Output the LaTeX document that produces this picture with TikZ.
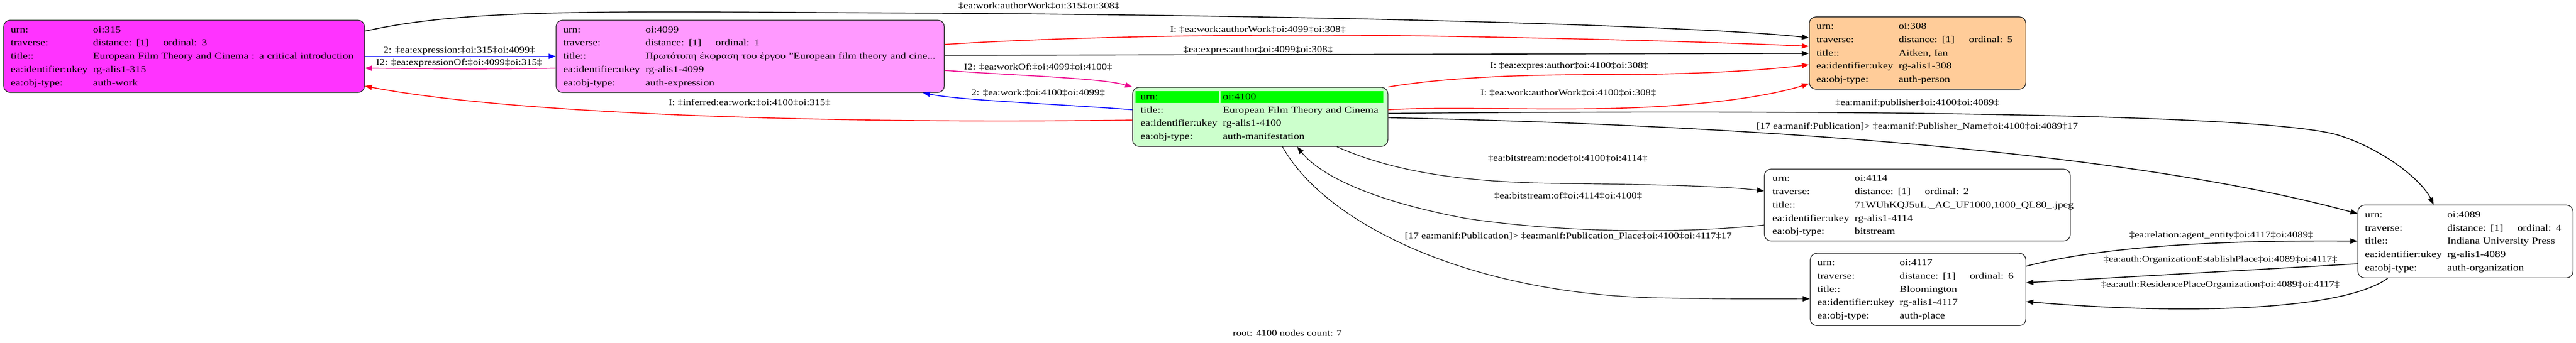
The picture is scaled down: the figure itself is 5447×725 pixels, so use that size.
\documentclass[tikz,border=0pt]{standalone}
\usepackage{fontspec}
\setmainfont{Liberation Serif}[FakeStretch=1.2]
\usepackage{tikz}
\usetikzlibrary{arrows.meta}
\definecolor{work}{HTML}{FF33FF}
\definecolor{expr}{HTML}{FF99FF}
\definecolor{manif}{HTML}{CCFFCC}
\definecolor{hdr}{HTML}{00FF00}
\definecolor{person}{HTML}{FFCC99}
\def\rec#1{\begin{tabular}{@{}p{174pt}@{}l@{}}#1\end{tabular}}
\def\trav#1{distance: [1]\hspace{30pt}ordinal: #1}
\def\hdrcell#1#2{\makebox[0pt][l]{\hspace{#1}\textcolor{hdr}{\rule[-7pt]{#2}{25pt}}}}
\tikzset{
  box/.style={draw=black!85, line width=1.5pt, rounded corners=14pt, anchor=north west,
    align=left, inner xsep=15pt, inner ysep=4pt, minimum height=153pt,
    font=\fontsize{19.2}{28}\selectfont},
  rel/.style={-{Triangle[length=15pt,width=11pt]}, line width=1.8pt},
  thinrel/.style={rel, line width=1.3pt},
  lbl/.style={inner sep=0pt, font=\fontsize{18.5}{22}\selectfont}
}

\begin{document}
\begin{tikzpicture}[x=1pt,y=-1pt]
		\useasboundingbox (0,0) rectangle (5447,725);
		%%%%% NODES %%%%%
		
		\node[box, fill=work, text width=733pt] (n315) at (7,42) {\rec{urn: & oi:315\\ traverse: & \trav{3}\\ title:: & European Film Theory and Cinema : a critical introduction\\ ea:identifier:ukey & rg-alis1-315\\ ea:obj-type: & auth-work}};
		\node[box, fill=expr, text width=791pt] (n4099) at (1175,42) {\rec{urn: & oi:4099\\ traverse: & \trav{1}\\ title:: & Πρωτότυπη έκφραση του έργου "European film theory and cine...\\ ea:identifier:ukey & rg-alis1-4099\\ ea:obj-type: & auth-expression}};
		\node[box, fill=manif, inner xsep=17pt, text width=506pt, minimum height=125pt] (n4100) at (2394,184) {\rec{\hdrcell{-11pt}{178pt}urn: & \hdrcell{-5pt}{344pt}oi:4100\\ title:: & European Film Theory and Cinema\\ ea:identifier:ukey & rg-alis1-4100\\ ea:obj-type: & auth-manifestation}};
		\node[box, fill=person, text width=428pt] (n308) at (3825,35) {\rec{urn: & oi:308\\ traverse: & \trav{5}\\ title:: & Aitken, Ian\\ ea:identifier:ukey & rg-alis1-308\\ ea:obj-type: & auth-person}};
		\node[box, fill=white, inner xsep=17pt, text width=613pt, minimum height=152pt] (n4114) at (3730,357) {\rec{urn: & oi:4114\\ traverse: & \trav{2}\\ title:: & 71WUhKQJ5uL.\_AC\_UF1000,1000\_QL80\_.jpeg\\ ea:identifier:ukey & rg-alis1-4114\\ ea:obj-type: & bitstream}};
		\node[box, fill=white, text width=426pt] (n4117) at (3827,535) {\rec{urn: & oi:4117\\ traverse: & \trav{6}\\ title:: & Bloomington\\ ea:identifier:ukey & rg-alis1-4117\\ ea:obj-type: & auth-place}};
		\node[box, fill=white, text width=425pt, minimum height=154pt] (n4089) at (4985,433) {\rec{urn: & oi:4089\\ traverse: & \trav{4}\\ title:: & Indiana University Press\\ ea:identifier:ukey & rg-alis1-4089\\ ea:obj-type: & auth-organization}};
		
		%%%%% EDGES %%%%%
		
		\draw[rel] ([yshift=-24pt]n315.north east) .. controls (1000,15) and (1300,25) .. (2000,28) .. controls (3000,35) and (3650,60) .. ([yshift=-45pt]n308.north west);
		\node[lbl] (l1) at (2197,13) {‡ea:work:authorWork‡oi:315‡oi:308‡};
		\draw[rel, red] ([yshift=-52pt]n4099.north east) .. controls (2300,75) and (2700,72) .. (3000,76) .. controls (3400,82) and (3700,92) .. ([yshift=-63pt]n308.north west);
		\node[lbl] (l2) at (2660,63) {I: ‡ea:work:authorWork‡oi:4099‡oi:308‡};
		\draw[rel] ([yshift=-75pt]n4099.north east) -- ([yshift=-78pt]n308.north west);
		\node[lbl] (l3) at (2660,106) {‡ea:expres:author‡oi:4099‡oi:308‡};
		
		\draw[rel, blue] (n315.east) -- (n4099.west);
		\node[lbl] (l4) at (971,107) {2: ‡ea:expression:‡oi:315‡oi:4099‡};
		\draw[rel, magenta] ([yshift=-25pt]n4099.west) .. controls (1000,147) and (900,145) .. ([yshift=-25pt]n315.east);
		\node[lbl] (l5) at (971,133) {I2: ‡ea:expressionOf:‡oi:4099‡oi:315‡};
		
		\draw[rel, magenta] ([yshift=-107pt]n4099.north east) .. controls (2150,160) and (2330,165) .. (n4100.north west);
		\node[lbl] (l6) at (2195,142) {I2: ‡ea:workOf:‡oi:4099‡oi:4100‡};
		\draw[rel, blue] ([yshift=-48pt]n4100.north west) .. controls (2200,218) and (2030,212) .. ([xshift=-46pt]n4099.south east);
		\node[lbl] (l7) at (2195,197) {2: ‡ea:work:‡oi:4100‡oi:4099‡};
		\draw[rel, red] ([yshift=-70pt]n4100.north west) .. controls (1800,262) and (1100,245) .. ([yshift=-140pt]n315.north east);
		\node[lbl] (l8) at (1585,217) {I: ‡inferred:ea:work:‡oi:4100‡oi:315‡};
		
		\draw[rel, red] (n4100.north east) .. controls (3050,165) and (3200,158) .. (3371,158) .. controls (3550,158) and (3700,152) .. ([yshift=-102pt]n308.north west);
		\node[lbl] (l9) at (3318,140) {I: ‡ea:expres:author‡oi:4100‡oi:308‡};
		\draw[rel, red] ([yshift=-48pt]n4100.north east) .. controls (3050,226) and (3200,232) .. (3371,230) .. controls (3550,228) and (3720,210) .. ([yshift=-142pt]n308.north west);
		\node[lbl] (l10) at (3316,197) {I: ‡ea:work:authorWork‡oi:4100‡oi:308‡};
		
		\draw[rel] ([yshift=-56pt]n4100.north east) .. controls (3800,232) and (4800,238) .. (4948,287) .. controls (5040,317) and (5120,380) .. ([xshift=161pt]n4089.north west);
		\node[lbl] (l11) at (4054,218) {‡ea:manif:publisher‡oi:4100‡oi:4089‡};
		\draw[rel] ([yshift=-65pt]n4100.north east) .. controls (3700,265) and (4500,320) .. ([yshift=-19pt]n4089.north west);
		\node[lbl] (l12) at (4054,268) {[17 ea:manif:Publication]> ‡ea:manif:Publisher\_Name‡oi:4100‡oi:4089‡17};
		
		\draw[thinrel] ([xshift=433pt]n4100.south west) .. controls (2950,365) and (3100,386) .. (3300,388) .. controls (3500,390) and (3650,394) .. ([yshift=-47pt]n4114.north west);
		\node[lbl] (l13) at (3315,335) {‡ea:bitstream:node‡oi:4100‡oi:4114‡};
		\draw[thinrel] ([yshift=-119pt]n4114.north west) .. controls (3550,495) and (3300,492) .. (3100,462) .. controls (2900,425) and (2790,370) .. ([xshift=349pt]n4100.south west);
		\node[lbl] (l14) at (3316,415) {‡ea:bitstream:of‡oi:4114‡oi:4100‡};
		\draw[thinrel] ([xshift=318pt]n4100.south west) .. controls (2800,470) and (3100,620) .. (3500,630) .. controls (3650,633) and (3750,632) .. ([yshift=-97pt]n4117.north west);
		\node[lbl] (l15) at (3316,500) {[17 ea:manif:Publication]> ‡ea:manif:Publication\_Place‡oi:4100‡oi:4117‡17};
		
		\draw[rel] ([yshift=-28pt]n4117.north east) .. controls (4450,520) and (4700,508) .. ([yshift=-77pt]n4089.north west);
		\node[lbl] (l16) at (4697,498) {‡ea:relation:agent\_entity‡oi:4117‡oi:4089‡};
		\draw[rel] ([yshift=-125pt]n4089.north west) -- ([yshift=-63pt]n4117.north east);
		\node[lbl] (l17) at (4695,550) {‡ea:auth:OrganizationEstablishPlace‡oi:4089‡oi:4117‡};
		\draw[rel] ([xshift=64pt]n4089.south west) .. controls (4950,660) and (4600,665) .. ([yshift=-103pt]n4117.north east);
		\node[lbl] (l18) at (4695,603) {‡ea:auth:ResidencePlaceOrganization‡oi:4089‡oi:4117‡};
		
		\node[lbl] (root) at (2722,704) {root: 4100 nodes count: 7};
		
		%%%%% END %%%%%
\end{tikzpicture}
\end{document}
